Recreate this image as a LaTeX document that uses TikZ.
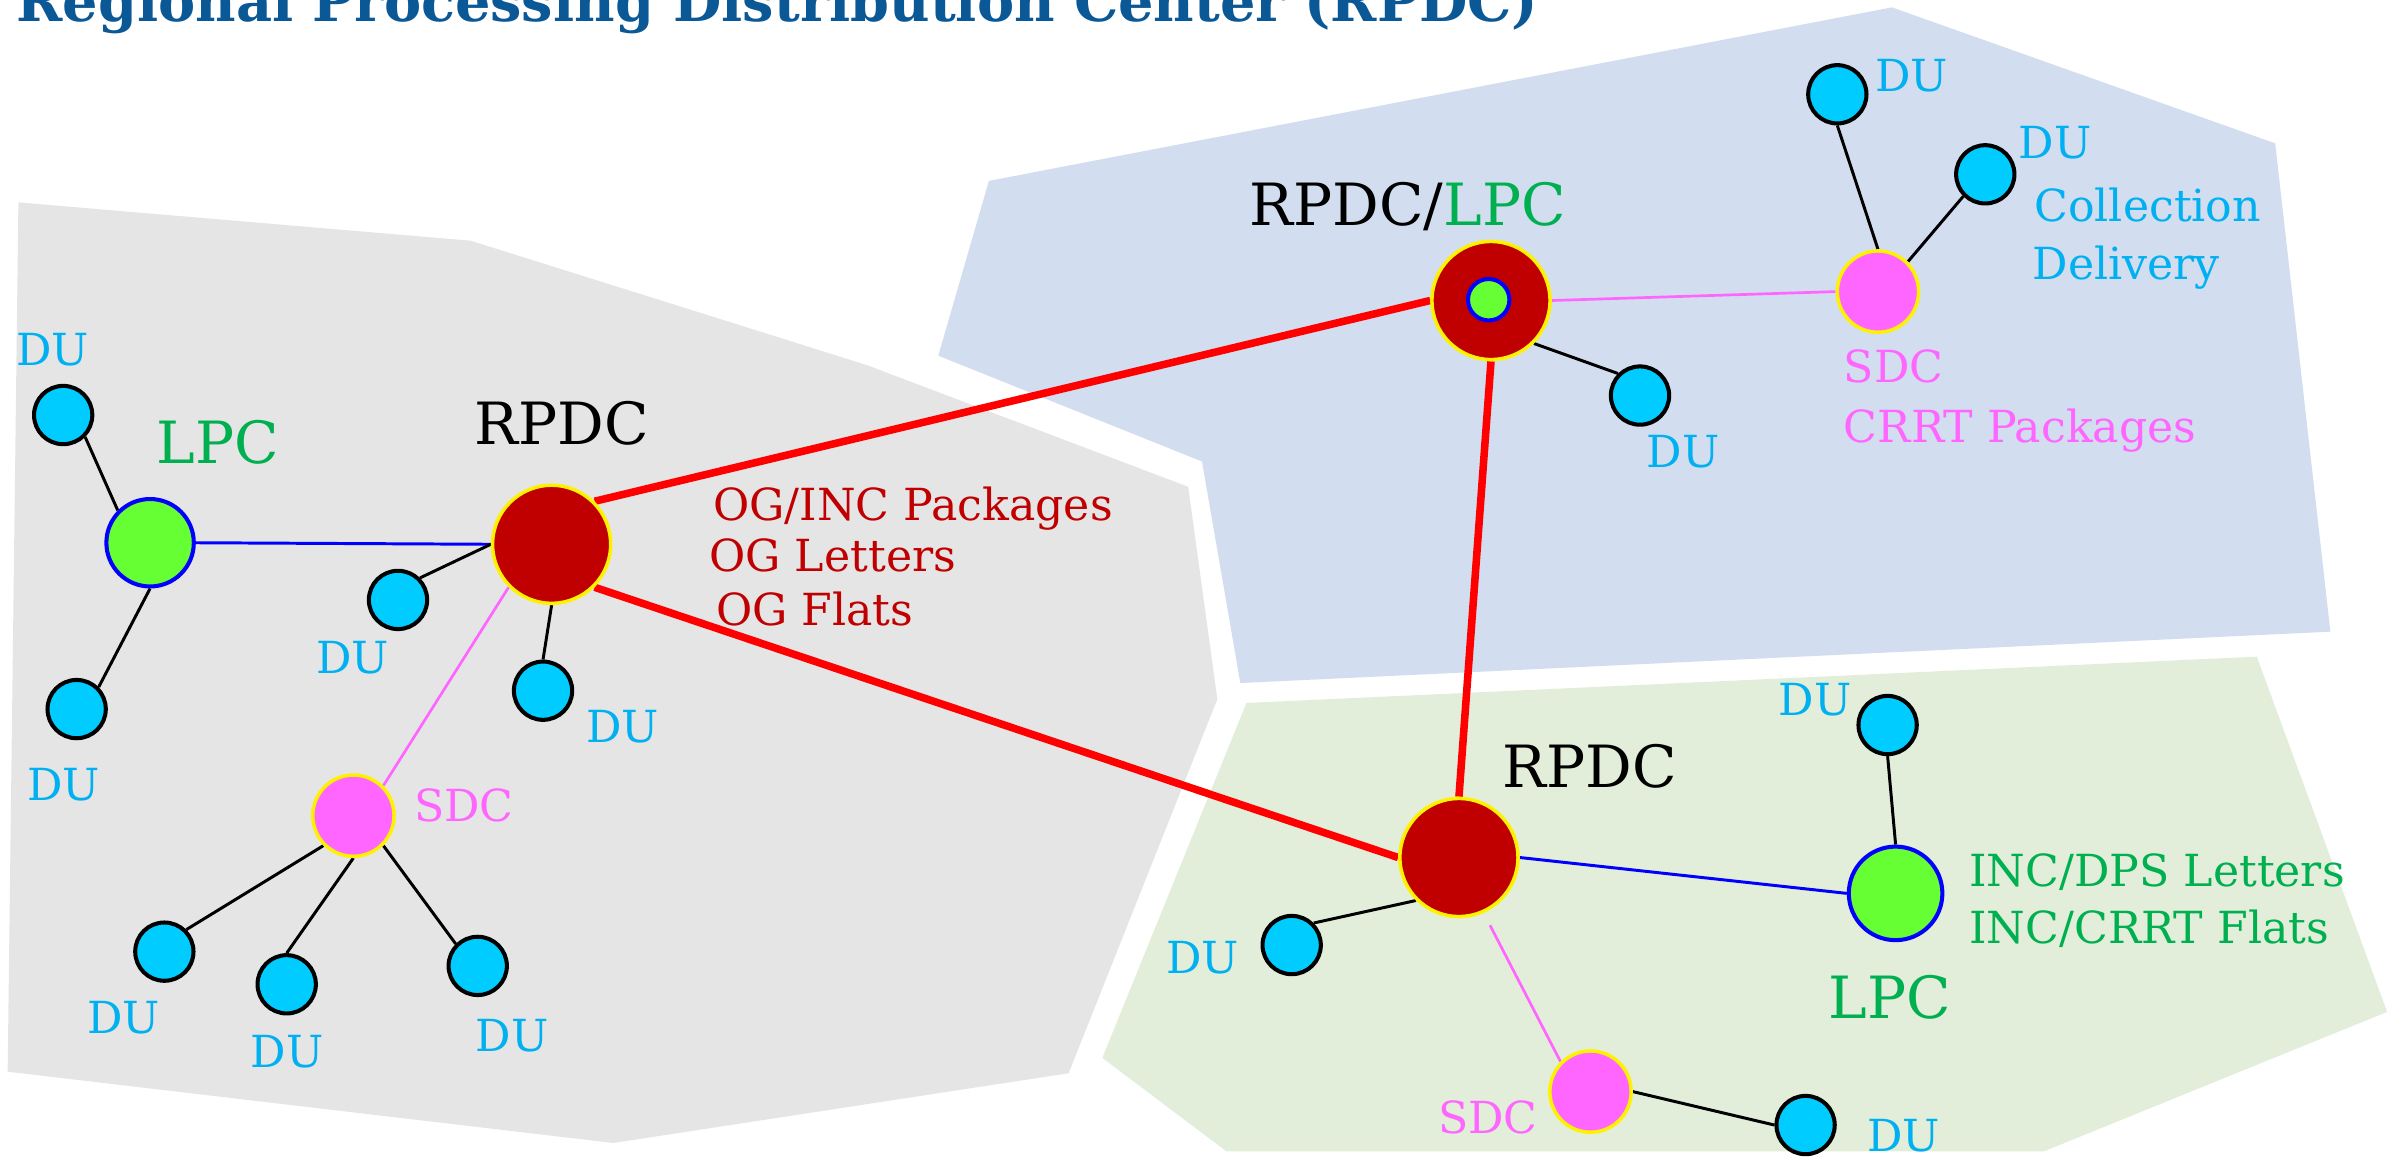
\documentclass[tikz,border=0pt]{standalone}
\usepackage{fontspec}
\setmainfont{DejaVu Serif}
\usetikzlibrary{calc}
\definecolor{titleblue}{RGB}{10,88,150}
\definecolor{ducyan}{RGB}{0,204,255}
\definecolor{dutext}{RGB}{0,176,240}
\definecolor{rpdcred}{RGB}{192,0,0}
\definecolor{lpcgreen}{RGB}{102,255,51}
\definecolor{lpctext}{RGB}{0,176,80}
\definecolor{sdcpink}{RGB}{255,102,255}
\definecolor{bggray}{RGB}{229,229,229}
\definecolor{bgblue}{RGB}{210,222,239}
\definecolor{bggreen}{RGB}{226,238,217}
\pgfdeclarelayer{bg}
\pgfdeclarelayer{edges}
\pgfsetlayers{bg,edges,main}
\begin{document}
\begin{tikzpicture}[x=0.01cm,y=-0.01cm,
  du/.style={circle,draw=black,line width=0.75pt,fill=ducyan,minimum size=0.38cm,inner sep=0pt},
  rpdc/.style={circle,draw=yellow,line width=0.65pt,fill=rpdcred,minimum size=0.77cm,inner sep=0pt},
  lpc/.style={circle,draw=blue,line width=0.75pt,fill=lpcgreen,minimum size=0.57cm,inner sep=0pt},
  sdc/.style={circle,draw=yellow,line width=0.65pt,fill=sdcpink,minimum size=0.53cm,inner sep=0pt},
  redlink/.style={draw=red,line width=1.4pt},
  bluelink/.style={draw=blue,line width=0.55pt},
  pinklink/.style={draw=sdcpink,line width=0.5pt},
  blklink/.style={draw=black,line width=0.55pt},
  txts/.style={font=\fontsize{8.2}{9}\selectfont,inner sep=0pt,anchor=base},
  txtb/.style={font=\fontsize{10.8}{12}\selectfont,inner sep=0pt,anchor=base},
]
\useasboundingbox (0,0) rectangle (1568,754);
\clip (0,0) rectangle (1568,754);

% background regions
\begin{pgfonlayer}{bg}
\fill[white] (0,0) rectangle (1568,754);
\fill[bggray] (12,132) -- (307,157) -- (565,238) -- (775,317.5) -- (794,456) -- (697,700) -- (400,745.5) -- (5,699) -- cycle;
\fill[bgblue] (612,232) -- (645,118) -- (1234,4.8) -- (1484,93.5) -- (1520,412) -- (809,445.5) -- (784,301) -- cycle;
\fill[bggreen] (813,458.5) -- (1472,428.3) -- (1557,660) -- (1333,751) -- (800,751) -- (719,690) -- cycle;
\end{pgfonlayer}

% title
\node[anchor=base west,inner sep=0pt,text=titleblue,font=\bfseries] (title) at (10,14.1)
  {\resizebox{9.92cm}{!}{Regional Processing Distribution Center (RPDC)}};

% left cluster
\node[du] (duA) at (41.2,270.7) {};
\node[lpc] (lpcL) at (97.9,354) {};
\node[du] (duB) at (50,462.5) {};
\node[rpdc] (rpdcL) at (359.8,355) {};
\node[du] (duC) at (259.6,391.3) {};
\node[du] (duD) at (354.2,450.5) {};
\node[sdc] (sdcL) at (230.5,532) {};
\node[du] (duE) at (107.2,620.7) {};
\node[du] (duF) at (187,642) {};
\node[du] (duG) at (311.6,630) {};

% top cluster
\node[rpdc] (rpdcT) at (972.5,196) {};
\node[lpc,minimum size=0.27cm] (rpdcTin) at (971,195.5) {};
\node[du] (duH) at (1069.7,258) {};
\node[sdc] (sdcT) at (1224.9,190.2) {};
\node[du] (duI) at (1198.4,61.5) {};
\node[du] (duJ) at (1294.9,113.7) {};

% bottom cluster
\node[rpdc] (rpdcB) at (951.6,559.3) {};
\node[du] (duK) at (842.5,616.4) {};
\node[lpc,minimum size=0.61cm] (lpcB) at (1236.4,582.7) {};
\node[du] (duL) at (1231.2,472.9) {};
\node[sdc] (sdcB) at (1037.4,712) {};
\node[du] (duM) at (1177.7,733.8) {};

% connectors
\begin{pgfonlayer}{edges}
\draw[redlink] (rpdcL.north east) -- (rpdcT.west);
\draw[redlink] (rpdcL.south east) -- (rpdcB.west);
\draw[redlink] (rpdcT.south) -- (rpdcB.north);
\draw[bluelink] (lpcL.east) -- (rpdcL.west);
\draw[bluelink] (rpdcB.east) -- (lpcB.west);
\draw[pinklink] (rpdcL.south west) -- (sdcL.north east);
\draw[pinklink] (rpdcT.east) -- (sdcT.west);
\draw[pinklink,shorten <=0.09cm] (rpdcB.-66) -- (sdcB.north west);
\draw[blklink] (duA.south east) -- (lpcL.north west);
\draw[blklink] (lpcL.south) -- (duB.north east);
\draw[blklink] (duC.north east) -- (rpdcL.west);
\draw[blklink] (rpdcL.south) -- (duD.north);
\draw[blklink] (sdcL.south west) -- (duE.north east);
\draw[blklink] (sdcL.south) -- (duF.north);
\draw[blklink] (sdcL.south east) -- (duG.north west);
\draw[blklink] (rpdcT.south east) -- (duH.north west);
\draw[blklink] (sdcT.north) -- (duI.south);
\draw[blklink] (sdcT.north east) -- (duJ.south west);
\draw[blklink] (rpdcB.south west) -- (duK.north east);
\draw[blklink] (lpcB.north) -- (duL.south);
\draw[blklink] (sdcB.east) -- (duM.west);
\end{pgfonlayer}

% labels left
\node[txts,text=dutext] (lduA) at (34.3,238.7) {DU};
\node[txtb,text=lpctext] (llpcL) at (142.2,302.6) {LPC};
\node[txtb] (lrpdcL) at (366.5,290) {RPDC};
\node[txts,text=dutext] (lduC) at (230,439) {DU};
\node[txts,text=dutext] (lduB) at (41.5,522) {DU};
\node[txts,text=dutext] (lduD) at (406,484) {DU};
\node[txts,text=sdcpink] (lsdcL) at (302.5,536) {SDC};
\node[txts,text=dutext] (lduE) at (80.5,674.4) {DU};
\node[txts,text=dutext] (lduF) at (187.2,696) {DU};
\node[txts,text=dutext] (lduG) at (334,686) {DU};
\node[txts,text=rpdcred,anchor=base west] (og1) at (464.4,339.6) {OG/INC Packages};
\node[txts,text=rpdcred,anchor=base west] (og2) at (462,372.9) {OG Letters};
\node[txts,text=rpdcred,anchor=base west] (og3) at (466.4,408.3) {OG Flats};

% labels top
\node[txtb,anchor=base west] (lrpdcT) at (814.3,147.4) {RPDC/\textcolor{lpctext}{LPC}};
\node[txts,text=dutext] (lduH) at (1097.8,305) {DU};
\node[txts,text=sdcpink,anchor=base west] (lsdcT) at (1202,249.6) {SDC};
\node[txts,text=sdcpink,anchor=base west] (lcrrt) at (1202,288.7) {CRRT Packages};
\node[txts,text=dutext] (lduI) at (1246.9,59.8) {DU};
\node[txts,text=dutext] (lduJ) at (1340.3,103.3) {DU};
\node[txts,text=dutext,anchor=base west] (lcoll) at (1326.2,144.6) {Collection};
\node[txts,text=dutext,anchor=base west] (ldeliv) at (1325.1,182.2) {Delivery};

% labels bottom
\node[txtb] (lrpdcB) at (1037,513.5) {RPDC};
\node[txts,text=dutext] (lduK) at (784.5,634.8) {DU};
\node[txts,text=dutext] (lduL) at (1183.8,466.8) {DU};
\node[txts,text=lpctext,anchor=base west] (linc1) at (1283.8,577.9) {INC/DPS Letters};
\node[txts,text=lpctext,anchor=base west] (linc2) at (1283.8,615.7) {INC/CRRT Flats};
\node[txtb,text=lpctext] (llpcB) at (1232.6,664.2) {LPC};
\node[txts,text=sdcpink] (lsdcB) at (970.5,739.2) {SDC};
\node[txts,text=dutext] (lduM) at (1241.5,751.2) {DU};
\end{tikzpicture}
\end{document}
